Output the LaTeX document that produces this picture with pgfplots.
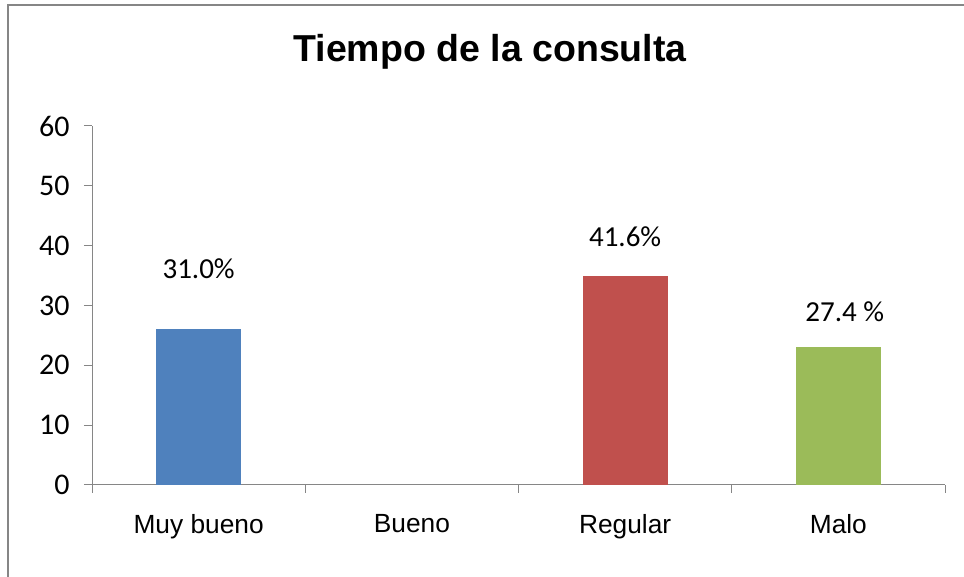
\documentclass[border=0pt]{standalone}
\usepackage{pgfplots}
\pgfplotsset{compat=1.18}
\usepackage{fontspec}
\setmainfont{Liberation Sans}
\newfontfamily\calib{Carlito}
\definecolor{cblue}{HTML}{4F81BD}
\definecolor{cred}{HTML}{C0504D}
\definecolor{cgreen}{HTML}{9BBB59}
\definecolor{cgrid}{HTML}{868686}
\begin{document}
\begin{tikzpicture}
\path[use as bounding box] (0,0) rectangle (964pt,577pt);
\draw[cgrid, line width=2pt] (8pt,0) -- (8pt,572pt) -- (964pt,572pt);
\node[font=\fontsize{37.5}{44}\selectfont\bfseries] at (490pt,525pt) {Tiempo de la consulta};
\begin{axis}[
  at={(92pt,92pt)}, anchor=south west,
  scale only axis, width=853pt, height=359pt,
  xmin=-0.5, xmax=3.5, ymin=0, ymax=60,
  axis lines*=left,
  axis line style={cgrid, line width=1pt},
  xtick={0,1,2,3},
  xticklabels={Muy bueno,Bueno,Regular,Malo},
  minor xtick={-0.5,0.5,1.5,2.5,3.5},
  ytick={0,10,20,30,40,50,60},
  tick align=outside,
  major x tick style={draw=none},
  minor tick length=8pt, major tick length=8pt,
  tick style={cgrid, line width=1pt},
  /pgf/number format/assume math mode=true,
  yticklabel style={font=\calib\fontsize{30}{35}\selectfont, xshift=-11pt},
  xticklabel style={font=\fontsize{26.3}{31}\selectfont, yshift=-18pt},
  clip=false,
]
\addplot[ybar, bar width=85pt, bar shift=0pt, fill=cblue, draw=none] coordinates {(0,26)};
\addplot[ybar, bar width=85pt, bar shift=0pt, fill=none, draw=none] coordinates {(1,0)};
\addplot[ybar, bar width=85pt, bar shift=0pt, fill=cred, draw=none] coordinates {(2,35)};
\addplot[ybar, bar width=85pt, bar shift=0pt, fill=cgreen, draw=none] coordinates {(3,23)};
\addplot[draw=none, mark=none, nodes near coords,
  point meta=explicit symbolic,
  nodes near coords style={anchor=center, font=\calib\fontsize{29}{34}\selectfont}]
  coordinates {(0,36.1) [31.0\%] (2,41.5) [41.6\%] (3.03,29.0) [27.4 \%]};
\end{axis}
\end{tikzpicture}
\end{document}
